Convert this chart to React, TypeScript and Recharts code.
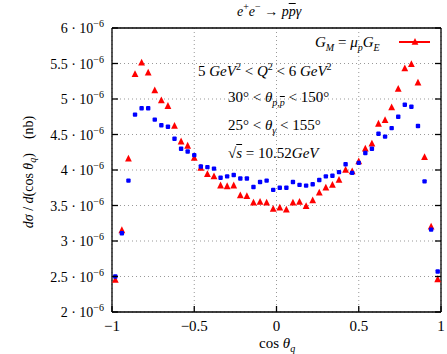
import { CartesianGrid, Scatter, ScatterChart, XAxis, YAxis } from "recharts";

// cos(theta_q) bin centres
const COS_THETA = [
  -0.98, -0.94, -0.9, -0.86, -0.82, -0.78, -0.74, -0.7, -0.66, -0.62, -0.58, -0.54, -0.5,
  -0.46, -0.42, -0.38, -0.34, -0.3, -0.26, -0.22, -0.18, -0.14, -0.1, -0.06, -0.02, 0.02,
  0.06, 0.1, 0.14, 0.18, 0.22, 0.26, 0.3, 0.34, 0.38, 0.42, 0.46, 0.5, 0.54, 0.58, 0.62,
  0.66, 0.7, 0.74, 0.78, 0.82, 0.86, 0.9, 0.94, 0.98,
];

// dσ/d(cosθ_q) in units of 1e-6 nb, G_M = μ_p G_E
const RED_VALUES = [
  2.45, 3.15, 4.16, 5.35, 5.51, 5.37, 5.12, 4.98, 4.9, 4.62, 4.4, 4.34, 4.17, 4.03, 3.94,
  3.91, 3.78, 3.77, 3.78, 3.64, 3.63, 3.54, 3.55, 3.54, 3.45, 3.47, 3.44, 3.54, 3.55, 3.49,
  3.57, 3.68, 3.75, 3.79, 3.86, 4.0, 3.98, 4.12, 4.3, 4.37, 4.65, 4.7, 4.88, 5.14, 5.43,
  5.49, 5.23, 4.18, 3.2, 2.46,
];

// second (unlabelled) series
const BLUE_VALUES = [
  2.5, 3.11, 3.85, 4.78, 4.87, 4.87, 4.71, 4.63, 4.61, 4.44, 4.3, 4.26, 4.21, 4.05, 4.04,
  4.02, 3.89, 3.91, 3.93, 3.88, 3.88, 3.76, 3.83, 3.85, 3.72, 3.75, 3.75, 3.83, 3.79, 3.78,
  3.8, 3.86, 3.91, 3.92, 3.97, 4.08, 3.96, 4.1, 4.24, 4.3, 4.51, 4.47, 4.59, 4.75, 4.92,
  4.89, 4.62, 3.84, 3.16, 2.57,
];

const X_TICKS = [-1, -0.5, 0, 0.5, 1];
const Y_TICKS = [2, 2.5, 3, 3.5, 4, 4.5, 5, 5.5, 6];

const RED = "#ff0000";
const BLUE = "#0000ff";
const FONT = "'Liberation Serif', serif";
const TICK_LEN = 6;

const redData = COS_THETA.map((x, i) => ({ x, y: RED_VALUES[i] }));
const blueData = COS_THETA.map((x, i) => ({ x, y: BLUE_VALUES[i] }));

function fmtX(v: number) {
  return v < 0 ? `\u2212${Math.abs(v)}` : String(v);
}

function BottomTick({ x, y, payload }: any) {
  return (
    <g>
      <line x1={x} y1={y} x2={x} y2={y - TICK_LEN} stroke="#000" strokeWidth={1.3} />
      <text x={x} y={y + 19} textAnchor="middle" fontFamily={FONT} fontSize={15} fill="#000">
        {fmtX(payload.value)}
      </text>
    </g>
  );
}

function TopTick({ x, y }: any) {
  return <line x1={x} y1={y} x2={x} y2={y + TICK_LEN} stroke="#000" strokeWidth={1.3} />;
}

function LeftTick({ x, y, payload }: any) {
  return (
    <g>
      <line x1={x} y1={y} x2={x + TICK_LEN} y2={y} stroke="#000" strokeWidth={1.3} />
      <text x={x - 8} y={y + 5} textAnchor="end" fontFamily={FONT} fontSize={14} fill="#000">
        {payload.value} · 10
        <tspan dy={-6} fontSize={10}>
          −6
        </tspan>
      </text>
    </g>
  );
}

function RightTick({ x, y }: any) {
  return <line x1={x} y1={y} x2={x - TICK_LEN} y2={y} stroke="#000" strokeWidth={1.3} />;
}

function Triangle({ cx, cy }: any) {
  if (cx == null || cy == null) return null;
  return (
    <path d={`M${cx},${cy - 4} L${cx + 3.4},${cy + 2.8} L${cx - 3.4},${cy + 2.8} Z`} fill={RED} />
  );
}

function Square({ cx, cy }: any) {
  if (cx == null || cy == null) return null;
  return <rect x={cx - 2.2} y={cy - 2.2} width={4.4} height={4.4} rx={1} fill={BLUE} />;
}

const textStyle: React.CSSProperties = {
  position: "absolute",
  fontFamily: FONT,
  fontSize: 15,
  color: "#000",
  whiteSpace: "nowrap",
  lineHeight: 1,
};

export default function App() {
  return (
    <div style={{ position: "relative", width: 447, height: 354, background: "#fff" }}>
      <style>{`body{margin:0}`}</style>
      <ScatterChart width={447} height={354} margin={{ top: 0, right: 0, bottom: 0, left: 0 }}>
        <CartesianGrid stroke="#999" strokeDasharray="1 3" />
        <XAxis
          type="number"
          dataKey="x"
          domain={[-1, 1]}
          ticks={X_TICKS}
          height={42}
          tickSize={0}
          tickMargin={0}
          tick={<BottomTick />}
          axisLine={{ stroke: "#000", strokeWidth: 1.3 }}
          tickLine={false}
          allowDataOverflow
        />
        <XAxis
          xAxisId="top"
          orientation="top"
          type="number"
          domain={[-1, 1]}
          ticks={X_TICKS}
          height={28}
          tickSize={0}
          tickMargin={0}
          tick={<TopTick />}
          axisLine={{ stroke: "#000", strokeWidth: 1.3 }}
          tickLine={false}
          allowDataOverflow
        />
        <YAxis
          type="number"
          dataKey="y"
          domain={[2, 6]}
          ticks={Y_TICKS}
          width={112}
          tickSize={0}
          tickMargin={0}
          tick={<LeftTick />}
          axisLine={{ stroke: "#000", strokeWidth: 1.3 }}
          tickLine={false}
          allowDataOverflow
        />
        <YAxis
          yAxisId="right"
          orientation="right"
          type="number"
          domain={[2, 6]}
          ticks={Y_TICKS}
          width={6}
          tickSize={0}
          tickMargin={0}
          tick={<RightTick />}
          axisLine={{ stroke: "#000", strokeWidth: 1.3 }}
          tickLine={false}
          allowDataOverflow
        />
        <Scatter data={redData} fill={RED} shape={<Triangle />} isAnimationActive={false} />
        <Scatter data={blueData} fill={BLUE} shape={<Square />} isAnimationActive={false} />
      </ScatterChart>

      <div style={{ ...textStyle, left: 237, top: 2, fontSize: 14 }}>
        <i>e</i>
        <sup style={{ fontSize: 10 }}>+</sup>
        <i>e</i>
        <sup style={{ fontSize: 10 }}>−</sup> → <i>p</i>
        <i style={{ textDecoration: "overline" }}>p</i>
        <i>γ</i>
      </div>

      <div style={{ ...textStyle, left: 315, top: 35, fontSize: 15 }}>
        <i>G</i>
        <sub style={{ fontSize: 10 }}>
          <i>M</i>
        </sub>{" "}
        = <i>μ</i>
        <sub style={{ fontSize: 10 }}>
          <i>p</i>
        </sub>
        <i>G</i>
        <sub style={{ fontSize: 10 }}>
          <i>E</i>
        </sub>
      </div>
      <svg style={{ position: "absolute", left: 398, top: 36 }} width={34} height={12}>
        <line x1={1} y1={6} x2={32} y2={6} stroke={RED} strokeWidth={2} />
        <path d="M17,2 L20.4,8.8 L13.6,8.8 Z" fill={RED} />
      </svg>

      <div style={{ ...textStyle, left: 198, top: 62 }}>
        5 <i>GeV</i>
        <sup style={{ fontSize: 10 }}>2</sup> &lt; <i>Q</i>
        <sup style={{ fontSize: 10 }}>2</sup> &lt; 6 <i>GeV</i>
        <sup style={{ fontSize: 10 }}>2</sup>
      </div>
      <div style={{ ...textStyle, left: 228, top: 90 }}>
        30° &lt; <i>θ</i>
        <sub style={{ fontSize: 10 }}>
          <i>p,</i>
          <i style={{ textDecoration: "overline" }}>p</i>
        </sub>{" "}
        &lt; 150°
      </div>
      <div style={{ ...textStyle, left: 228, top: 118 }}>
        25° &lt; <i>θ</i>
        <sub style={{ fontSize: 10 }}>
          <i>γ</i>
        </sub>{" "}
        &lt; 155°
      </div>
      <div style={{ ...textStyle, left: 228, top: 146 }}>
        √<span style={{ textDecoration: "overline" }}><i>s</i></span> = 10.52<i>GeV</i>
      </div>

      <div
        style={{
          ...textStyle,
          left: 30,
          top: 172,
          transform: "translate(-50%, -50%) rotate(-90deg)",
          fontSize: 14,
        }}
      >
        <i>dσ</i> / <i>d</i>(cos <i>θ</i>
        <sub style={{ fontSize: 10 }}>
          <i>q</i>
        </sub>
        ) &nbsp;&nbsp;&nbsp;(nb)
      </div>

      <div style={{ ...textStyle, left: 259, top: 336, fontSize: 15 }}>
        cos <i>θ</i>
        <sub style={{ fontSize: 10 }}>
          <i>q</i>
        </sub>
      </div>
    </div>
  );
}
